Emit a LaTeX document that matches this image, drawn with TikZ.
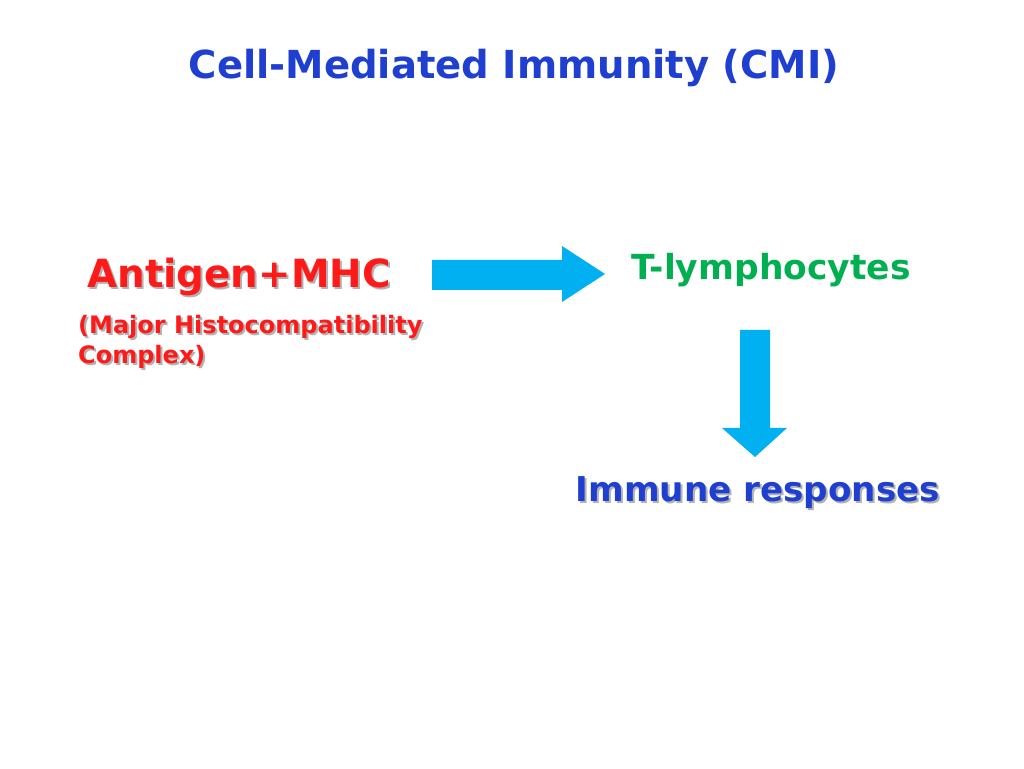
\documentclass[tikz,border=0pt]{standalone}
\usepackage{fontspec}
\setmainfont{DejaVu Sans}
\definecolor{tblue}{HTML}{1F3FD0}
\definecolor{tred}{HTML}{FF1A1A}
\definecolor{tgreen}{HTML}{00B050}
\definecolor{acyan}{HTML}{00B0F0}
\tikzset{x=1pt,y=1pt,
  sh/.style={text=gray!60,inner sep=0pt,xshift=2pt,yshift=-2pt},
  txt/.style={inner sep=0pt,font=\bfseries},
  arr/.style={fill=acyan,draw=none}}
\begin{document}
\begin{tikzpicture}
\useasboundingbox (0,0) rectangle (1024,768);
\fill[white] (0,0) rectangle (1024,768);
\node[txt,text=tblue,font=\bfseries\fontsize{38.6}{44}\selectfont] (title) at (514,700) {Cell-Mediated Immunity (CMI)};
\node[sh,font=\bfseries\fontsize{38.8}{44}\selectfont] at (239,491) {Antigen+MHC};
\node[txt,text=tred,font=\bfseries\fontsize{38.8}{44}\selectfont] (ag) at (239,491) {Antigen+MHC};
\node[sh,font=\bfseries\fontsize{24}{30}\selectfont,align=left,anchor=west] at (78,426) {(Major Histocompatibility\\Complex)};
\node[txt,text=tred,font=\bfseries\fontsize{24}{30}\selectfont,align=left,anchor=west] (mhc) at (78,426) {(Major Histocompatibility\\Complex)};
\node[txt,text=tgreen,font=\bfseries\fontsize{34.5}{40}\selectfont] (tl) at (771,498) {T-lymphocytes};
\node[sh,font=\bfseries\fontsize{34.2}{40}\selectfont] at (758,275) {Immune responses};
\node[txt,text=tblue,font=\bfseries\fontsize{34.2}{40}\selectfont] (ir) at (758,275) {Immune responses};
\fill[arr] (432,508) -- (562,508) -- (562,522) -- (605,494) -- (562,466) -- (562,478) -- (432,478) -- cycle;
\fill[arr] (740,438) -- (770,438) -- (770,340) -- (787,340) -- (755,311) -- (722,340) -- (740,340) -- cycle;
\end{tikzpicture}
\end{document}
